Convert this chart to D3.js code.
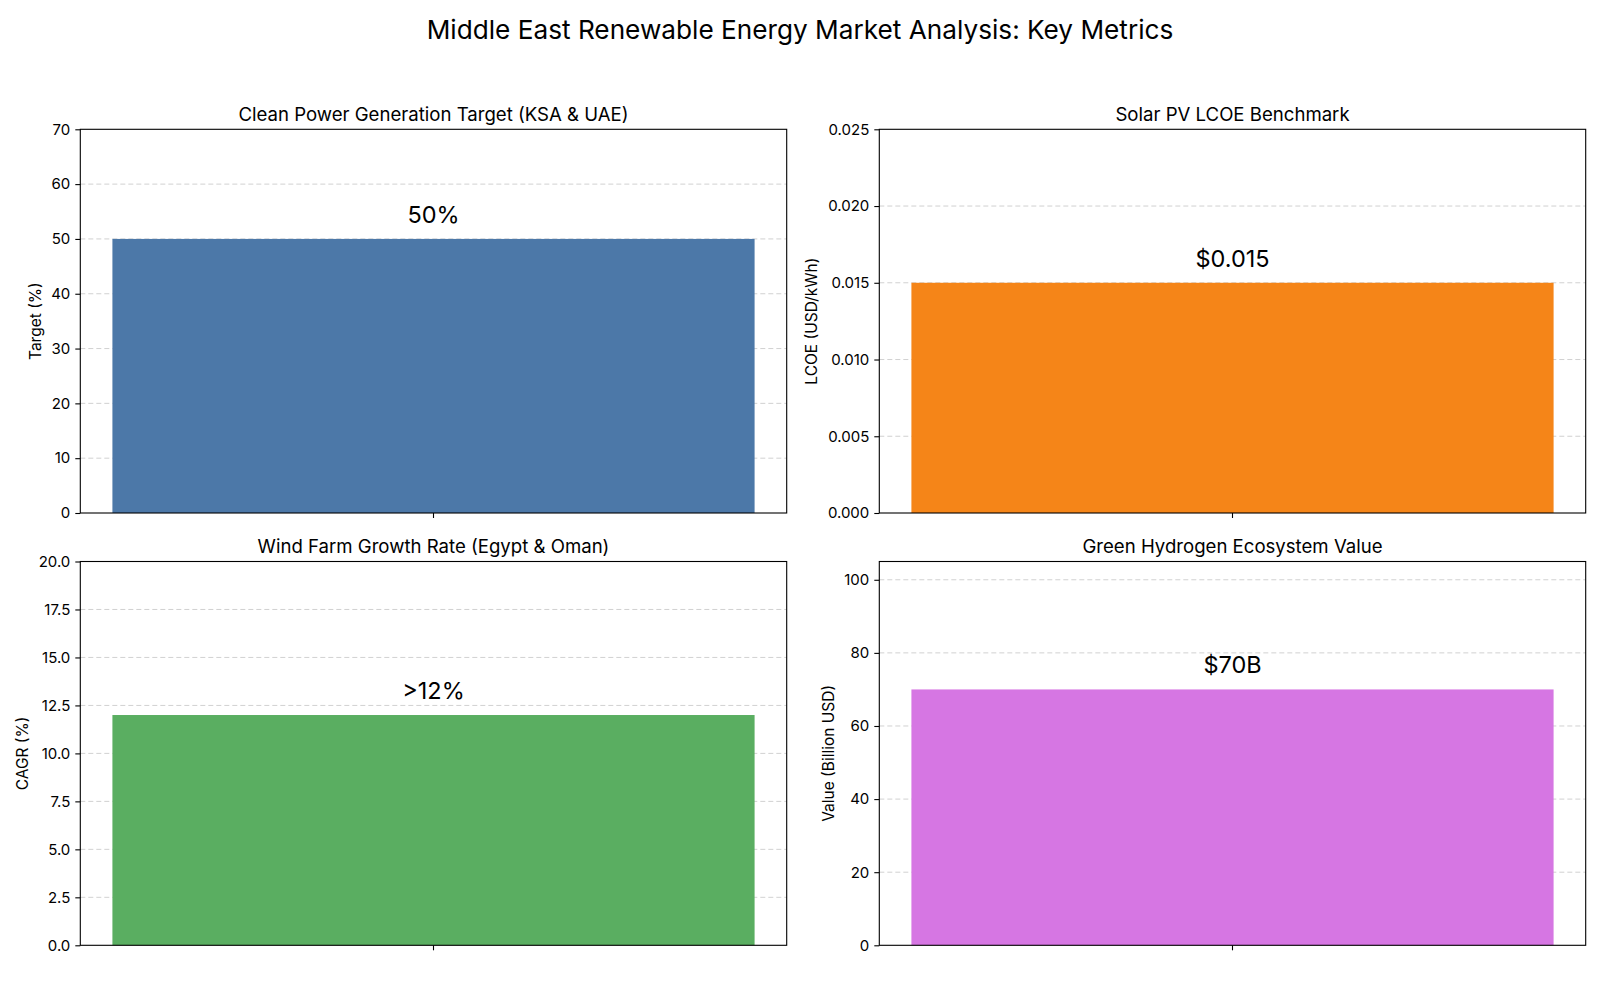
<!DOCTYPE html>
<html>
<head>
<meta charset="utf-8">
<script src="https://cdn.jsdelivr.net/npm/d3@7"></script>
<style>
  html, body { margin: 0; padding: 0; background: #fff; }
  svg { display: block; }
  text { font-family: Inter, "Open Sans", sans-serif; fill: #000; }
</style>
</head>
<body>
<svg id="chart" width="1600" height="1000"></svg>
<script>
// ---- data ----
const mainTitle = "Middle East Renewable Energy Market Analysis: Key Metrics";
const panelTitles = [
  "Clean Power Generation Target (KSA & UAE)",
  "Solar PV LCOE Benchmark",
  "Wind Farm Growth Rate (Egypt & Oman)",
  "Green Hydrogen Ecosystem Value"
];
const categories = ["Clean Power Target", "Solar PV LCOE", "Wind CAGR", "Green Hydrogen"];
const values = [50, 0.015, 12, 70];
const valueLabels = ["50%", "$0.015", ">12%", "$70B"];
const yLabels = ["Target (%)", "LCOE (USD/kWh)", "CAGR (%)", "Value (Billion USD)"];
const yMax = [70, 0.025, 20, 105];
const yTicks1 = [0, 10, 20, 30, 40, 50, 60, 70];
const yTicks2 = [0, 0.005, 0.010, 0.015, 0.020, 0.025];
const yTicks3 = [0, 2.5, 5, 7.5, 10, 12.5, 15, 17.5, 20];
const yTicks4 = [0, 20, 40, 60, 80, 100];
const yTicks = [yTicks1, yTicks2, yTicks3, yTicks4];
const tickFormats = [".0f", ".3f", ".1f", ".0f"];
const colors = ["#4C78A8", "#F58518", "#5AAE61", "#D676E3"];

// ---- layout ----
const svg = d3.select("#chart");
const panels = [
  {x0: 80.3, x1: 786.7, y0: 129.3, y1: 513},
  {x0: 879.3, x1: 1585.7, y0: 129.3, y1: 513},
  {x0: 80.3, x1: 786.7, y0: 561.5, y1: 945.3},
  {x0: 879.3, x1: 1585.7, y0: 561.5, y1: 945.3}
];

svg.append("text")
  .attr("x", 800).attr("y", 39)
  .attr("text-anchor", "middle")
  .style("font-size", "26.2px")
  .text(mainTitle);

panels.forEach((p, i) => {
  const g = svg.append("g");
  const x = d3.scaleBand().domain([categories[i]]).range([p.x0, p.x1])
    .paddingInner(0).paddingOuter(0.05);
  const y = d3.scaleLinear().domain([0, yMax[i]]).range([p.y1, p.y0]);

  // grid
  g.append("g").selectAll("line").data(yTicks[i].filter(t => t > 0 && t < yMax[i]))
    .join("line")
    .attr("x1", p.x0).attr("x2", p.x1)
    .attr("y1", d => y(d)).attr("y2", d => y(d))
    .attr("stroke", "#cccccc").attr("stroke-width", 0.9)
    .attr("stroke-dasharray", "5,3");

  // bar
  g.append("rect")
    .attr("x", x(categories[i])).attr("width", x.bandwidth())
    .attr("y", y(values[i])).attr("height", y(0) - y(values[i]))
    .attr("fill", colors[i]);

  // value label
  g.append("text")
    .attr("x", x(categories[i]) + x.bandwidth() / 2)
    .attr("y", y(values[i]) - 16)
    .attr("text-anchor", "middle")
    .style("font-size", "23.5px")
    .text(valueLabels[i]);

  // y axis
  const yAxis = g.append("g")
    .attr("transform", `translate(${p.x0},0)`)
    .call(d3.axisLeft(y).tickValues(yTicks[i]).tickFormat(d3.format(tickFormats[i]))
      .tickSize(5).tickPadding(5));
  yAxis.select(".domain").remove();
  yAxis.selectAll("line").attr("stroke", "#000").attr("stroke-width", 1.1);
  yAxis.selectAll("text").style("font-size", "15px").style("font-family", "Inter, sans-serif");

  // x axis
  const xAxis = g.append("g")
    .attr("transform", `translate(0,${p.y1})`)
    .call(d3.axisBottom(x).tickFormat(() => "").tickSize(5));
  xAxis.select(".domain").remove();
  xAxis.selectAll("line").attr("stroke", "#000").attr("stroke-width", 1.1);

  // frame
  g.append("rect")
    .attr("x", p.x0).attr("y", p.y0)
    .attr("width", p.x1 - p.x0).attr("height", p.y1 - p.y0)
    .attr("fill", "none").attr("stroke", "#000").attr("stroke-width", 1.1);

  // panel title
  g.append("text")
    .attr("x", (p.x0 + p.x1) / 2).attr("y", p.y0 - 8.5)
    .attr("text-anchor", "middle")
    .style("font-size", "18.6px")
    .text(panelTitles[i]);

  // y label
  let minLeft = Infinity;
  yAxis.selectAll("text").each(function() {
    const b = this.getBBox();
    const t = this.parentNode.getAttribute("transform");
    const m = /translate\(([-\d.]+),/.exec(t);
    const off = m ? +m[1] : 0;
    minLeft = Math.min(minLeft, p.x0 + off + b.x);
  });
  const lx = minLeft - 16;
  const ly = (p.y0 + p.y1) / 2;
  g.append("text")
    .attr("transform", `translate(${lx},${ly}) rotate(-90)`)
    .attr("text-anchor", "middle")
    .attr("dominant-baseline", "central")
    .style("font-size", "15.5px")
    .text(yLabels[i]);
});
</script>
</body>
</html>
